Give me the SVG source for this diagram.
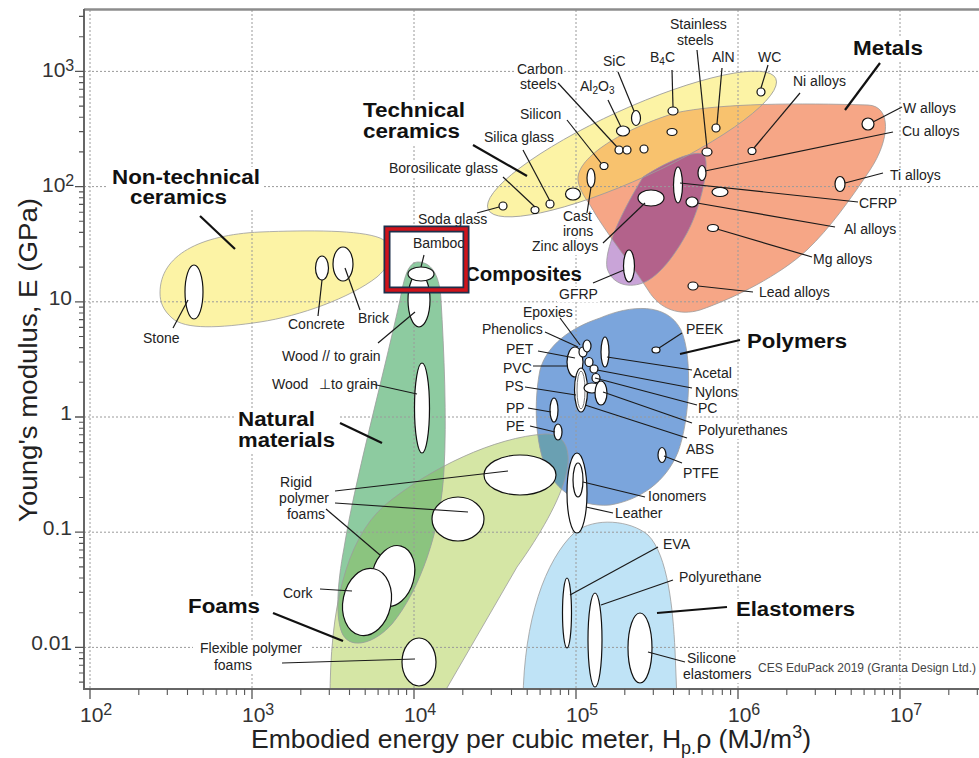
<svg xmlns="http://www.w3.org/2000/svg" width="979" height="758" viewBox="0 0 979 758">
<style>
.env{fill:none;stroke:#9c9c9c;stroke-width:0.8}
.bub{fill:#fff;stroke:#111;stroke-width:1.2}
.ld{stroke:#1a1a1a;stroke-width:1.2;fill:none}
.ldb{stroke:#111;stroke-width:2.2;fill:none}
.lb{font-family:"Liberation Sans",Arial,sans-serif;font-size:14px;fill:#222}
.bl{font-family:"Liberation Sans",Arial,sans-serif;font-size:20px;font-weight:bold;fill:#111}
.grid{stroke:#9a9a9a;stroke-width:1;stroke-dasharray:2 2;fill:none}
.tk{font-family:"Liberation Sans",Arial,sans-serif;font-size:21px;fill:#333}
.bg{fill:#fff}
</style>
<defs>
<clipPath id="cpPlot"><rect x="85" y="10" width="894" height="679"/></clipPath>
<clipPath id="cpFoams"><path d="M 330,700 C 330,610 345,540 385,505 C 430,468 495,437 545,434 C 566,433 572,452 566,475 C 560,500 540,535 517,567 L 440,700 Z"/></clipPath>
<clipPath id="cpTcer"><ellipse cx="632" cy="144" rx="158" ry="35" transform="rotate(-24.5 632 144)"/></clipPath>
<clipPath id="cpMetals"><path d="M 578,180 C 576,160 615,132 675,113 C 720,103 800,103 868,105 C 892,106 890,140 870,170 C 850,200 830,228 807,250 C 780,275 735,298 700,310 C 680,316 660,310 648,290 C 630,262 605,232 590,205 C 583,195 579,188 578,180 Z"/></clipPath>
</defs>
<rect width="979" height="758" fill="#fff"/>

<g id="envelopes" clip-path="url(#cpPlot)">
<path id="foams-env" d="M 330,700 C 330,610 345,540 385,505 C 430,468 495,437 545,434 C 566,433 572,452 566,475 C 560,500 540,535 517,567 L 440,700 Z" fill="#D5E6A5"/>
<path id="natural-env" d="M 418,262 C 433,262 440,278 441,300 C 444,350 447,420 444,470 C 441,530 420,590 392,624 C 375,643 352,650 343,635 C 335,620 337,585 344,548 C 355,480 380,390 400,300 C 404,278 408,262 418,262 Z" fill="#8DCBA0"/>
<path d="M 418,262 C 433,262 440,278 441,300 C 444,350 447,420 444,470 C 441,530 420,590 392,624 C 375,643 352,650 343,635 C 335,620 337,585 344,548 C 355,480 380,390 400,300 C 404,278 408,262 418,262 Z" fill="#8BC47F" clip-path="url(#cpFoams)"/>
<path id="polymers-env" d="M 600,318 C 630,305 667,302 681,330 C 693,356 690,420 678,452 C 666,482 640,500 610,505 C 576,508 551,486 543,460 C 534,430 535,395 540,370 C 547,345 570,328 600,318 Z" fill="#7BA5DC"/>
<path d="M 600,318 C 630,305 667,302 681,330 C 693,356 690,420 678,452 C 666,482 640,500 610,505 C 576,508 551,486 543,460 C 534,430 535,395 540,370 C 547,345 570,328 600,318 Z" fill="#6AA0B2" clip-path="url(#cpFoams)"/>
<path id="elast-env" d="M 523,700 C 524,620 545,560 575,532 C 595,517 630,520 648,535 C 668,555 673,610 675,650 L 677,700 Z" fill="#BFE3F6"/>
<path id="ntcer-env" d="M 160,293 C 160,255 200,235 260,232 C 310,230 360,230 380,238 C 398,246 394,262 377,277 C 350,298 300,316 260,322 C 220,328 185,330 172,318 C 163,310 160,302 160,293 Z" fill="#FCF3A5"/>
<ellipse id="tcer-env" cx="632" cy="144" rx="158" ry="35" transform="rotate(-24.5 632 144)" fill="#FCF3A5"/>
<path id="metals-env" d="M 578,180 C 576,160 615,132 675,113 C 720,103 800,103 868,105 C 892,106 890,140 870,170 C 850,200 830,228 807,250 C 780,275 735,298 700,310 C 680,316 660,310 648,290 C 630,262 605,232 590,205 C 583,195 579,188 578,180 Z" fill="#F6A686"/>
<path d="M 578,180 C 576,160 615,132 675,113 C 720,103 800,103 868,105 C 892,106 890,140 870,170 C 850,200 830,228 807,250 C 780,275 735,298 700,310 C 680,316 660,310 648,290 C 630,262 605,232 590,205 C 583,195 579,188 578,180 Z" fill="#F8C26E" clip-path="url(#cpTcer)"/>
<path id="comp-env" d="M 643,177 C 660,166 690,150 703,154 C 712,160 700,210 687,233 C 675,255 660,275 645,282 C 630,289 612,285 607,268 C 604,250 620,215 643,177 Z" fill="#C9A4D8"/>
<path d="M 643,177 C 660,166 690,150 703,154 C 712,160 700,210 687,233 C 675,255 660,275 645,282 C 630,289 612,285 607,268 C 604,250 620,215 643,177 Z" fill="#B3628B" clip-path="url(#cpMetals)"/>
<g class="env">
<path d="M 330,700 C 330,610 345,540 385,505 C 430,468 495,437 545,434 C 566,433 572,452 566,475 C 560,500 540,535 517,567 L 440,700"/>
<path d="M 418,262 C 433,262 440,278 441,300 C 444,350 447,420 444,470 C 441,530 420,590 392,624 C 375,643 352,650 343,635 C 335,620 337,585 344,548 C 355,480 380,390 400,300 C 404,278 408,262 418,262 Z"/>
<path d="M 600,318 C 630,305 667,302 681,330 C 693,356 690,420 678,452 C 666,482 640,500 610,505 C 576,508 551,486 543,460 C 534,430 535,395 540,370 C 547,345 570,328 600,318 Z"/>
<path d="M 523,700 C 524,620 545,560 575,532 C 595,517 630,520 648,535 C 668,555 673,610 675,650 L 677,700"/>
<path d="M 160,293 C 160,255 200,235 260,232 C 310,230 360,230 380,238 C 398,246 394,262 377,277 C 350,298 300,316 260,322 C 220,328 185,330 172,318 C 163,310 160,302 160,293 Z"/>
<ellipse cx="632" cy="144" rx="158" ry="35" transform="rotate(-24.5 632 144)"/>
<path d="M 578,180 C 576,160 615,132 675,113 C 720,103 800,103 868,105 C 892,106 890,140 870,170 C 850,200 830,228 807,250 C 780,275 735,298 700,310 C 680,316 660,310 648,290 C 630,262 605,232 590,205 C 583,195 579,188 578,180 Z"/>
<path d="M 643,177 C 660,166 690,150 703,154 C 712,160 700,210 687,233 C 675,255 660,275 645,282 C 630,289 612,285 607,268 C 604,250 620,215 643,177 Z"/>
</g>
</g>

<g id="grid" class="grid">
<path d="M84,71.4H979 M84,186.6H979 M84,301.8H979 M84,417H979 M84,532.2H979 M84,647.4H979"/>
<path d="M90,10V689 M252,10V689 M414,10V689 M576,10V689 M738,10V689 M900,10V689"/>
</g>

<g id="axes">
<path d="M84,9.5H979" stroke="#8c8c8c" stroke-width="2.5" fill="none"/>
<path d="M84,9V689H979" stroke="#666" stroke-width="2" fill="none"/>
<path stroke="#555" stroke-width="1.3" fill="none" d="M75,71.4H84 M75,186.6H84 M75,301.8H84 M75,417H84 M75,532.2H84 M75,647.4H84 M90,689V699 M252,689V699 M414,689V699 M576,689V699 M738,689V699 M900,689V699"/>
<path stroke="#555" stroke-width="1.1" fill="none" d="M79,36.7H84 M79,16.4H84 M79,151.9H84 M79,131.6H84 M79,117.2H84 M79,106.1H84 M79,97H84 M79,89.2H84 M79,82.6H84 M79,76.7H84 M79,267.1H84 M79,246.8H84 M79,232.4H84 M79,221.3H84 M79,212.2H84 M79,204.4H84 M79,197.8H84 M79,191.9H84 M79,382.3H84 M79,362H84 M79,347.6H84 M79,336.5H84 M79,327.4H84 M79,319.6H84 M79,313H84 M79,307.1H84 M79,497.5H84 M79,477.2H84 M79,462.8H84 M79,451.7H84 M79,442.6H84 M79,434.8H84 M79,428.2H84 M79,422.3H84 M79,612.7H84 M79,592.4H84 M79,578H84 M79,566.9H84 M79,557.8H84 M79,550H84 M79,543.4H84 M79,537.5H84 M79,682.1H84 M79,673H84 M79,665.2H84 M79,658.6H84 M79,652.7H84
M138.8,689V695 M167.3,689V695 M187.5,689V695 M203.2,689V695 M216.1,689V695 M226.9,689V695 M236.3,689V695 M244.6,689V695
M300.8,689V695 M329.3,689V695 M349.5,689V695 M365.2,689V695 M378.1,689V695 M388.9,689V695 M398.3,689V695 M406.6,689V695
M462.8,689V695 M491.3,689V695 M511.5,689V695 M527.2,689V695 M540.1,689V695 M550.9,689V695 M560.3,689V695 M568.6,689V695
M624.8,689V695 M653.3,689V695 M673.5,689V695 M689.2,689V695 M702.1,689V695 M712.9,689V695 M722.3,689V695 M730.6,689V695
M786.8,689V695 M815.3,689V695 M835.5,689V695 M851.2,689V695 M864.1,689V695 M874.9,689V695 M884.3,689V695 M892.6,689V695
M948.8,689V695 M977.3,689V695"/>
<g class="tk">
<text x="42" y="77">10<tspan dy="-6" font-size="16">3</tspan></text>
<text x="42" y="192">10<tspan dy="-6" font-size="16">2</tspan></text>
<text x="72" y="305" text-anchor="end">10</text>
<text x="72" y="420" text-anchor="end">1</text>
<text x="72" y="535" text-anchor="end">0.1</text>
<text x="72" y="650" text-anchor="end">0.01</text>
<text x="80" y="722">10<tspan dy="-7" font-size="16">2</tspan></text>
<text x="242" y="722">10<tspan dy="-7" font-size="16">3</tspan></text>
<text x="404" y="722">10<tspan dy="-7" font-size="16">4</tspan></text>
<text x="566" y="722">10<tspan dy="-7" font-size="16">5</tspan></text>
<text x="728" y="722">10<tspan dy="-7" font-size="16">6</tspan></text>
<text x="890" y="722">10<tspan dy="-7" font-size="16">7</tspan></text>
</g>
<text transform="translate(37,360) rotate(-90)" text-anchor="middle" font-family="Liberation Sans, Arial, sans-serif" font-size="26" fill="#222" textLength="324" lengthAdjust="spacingAndGlyphs">Young's modulus, E (GPa)</text>
<text x="251" y="748" font-family="Liberation Sans, Arial, sans-serif" font-size="26.5" fill="#222">Embodied energy per cubic meter, H<tspan font-size="18" dy="6">p.</tspan><tspan dy="-6">ρ (MJ/m</tspan><tspan font-size="18" dy="-10">3</tspan><tspan dy="10">)</tspan></text>
</g>

<g id="label-backgrounds" class="bg">
<rect x="108" y="167" width="156" height="42"/>
<rect x="360" y="101" width="108" height="43"/>
<rect x="234" y="409" width="104" height="45"/>
<rect x="185" y="597" width="78" height="20"/>
<rect x="850" y="38" width="76" height="22"/>
<rect x="744" y="331" width="106" height="24"/>
<rect x="733" y="599" width="125" height="23"/>
<rect x="515" y="62" width="49" height="16"/>
<rect x="888" y="169" width="56" height="15"/>
<rect x="857" y="196" width="53" height="15"/>
<rect x="557" y="287" width="42" height="15"/>
<rect x="530" y="239" width="70" height="16"/>
<rect x="561" y="210" width="32" height="28"/>
<rect x="387" y="161" width="113" height="15"/>
<rect x="696" y="424" width="93" height="15"/>
<rect x="677" y="571" width="88" height="15"/>
<rect x="681" y="652" width="73" height="31"/>
<rect x="193" y="640" width="117" height="34"/>
<rect x="756" y="661" width="222" height="14"/>
<rect x="390" y="232" width="73" height="29"/>
</g>

<g id="nodes">
<g id="stone"><ellipse class="bub" cx="194" cy="292" rx="9" ry="27"/><text class="lb" x="143" y="343">Stone</text></g>
<g id="concrete"><ellipse class="bub" cx="322" cy="268" rx="6.5" ry="12"/><text class="lb" x="288" y="329">Concrete</text></g>
<g id="brick"><ellipse class="bub" cx="343" cy="264" rx="10" ry="17"/><text class="lb" x="358" y="323">Brick</text></g>
<g id="non-technical-ceramics"><text class="bl" x="112" y="184" textLength="148" lengthAdjust="spacingAndGlyphs">Non-technical</text><text class="bl" x="130" y="204" textLength="97" lengthAdjust="spacingAndGlyphs">ceramics</text></g>

<g id="technical-ceramics"><text class="bl" x="363" y="117" textLength="102" lengthAdjust="spacingAndGlyphs">Technical</text><text class="bl" x="363" y="138" textLength="97" lengthAdjust="spacingAndGlyphs">ceramics</text></g>
<g id="soda-glass"><ellipse class="bub" cx="503" cy="206" rx="4" ry="4"/><text class="lb" x="418" y="224">Soda glass</text></g>
<g id="borosilicate-glass"><ellipse class="bub" cx="535" cy="210" rx="4" ry="3.5"/><text class="lb" x="389" y="173">Borosilicate glass</text></g>
<g id="silica-glass"><ellipse class="bub" cx="550" cy="204" rx="4" ry="4"/><text class="lb" x="484" y="142">Silica glass</text></g>
<g id="ceramic-a"><ellipse class="bub" cx="573" cy="194" rx="7.5" ry="6"/></g>
<g id="cast-irons"><ellipse class="bub" cx="591" cy="178" rx="4" ry="9.5"/><text class="lb" x="563" y="221">Cast</text><text class="lb" x="563" y="236">irons</text></g>
<g id="silicon"><ellipse class="bub" cx="604" cy="166" rx="4" ry="3.5"/><text class="lb" x="520" y="119">Silicon</text></g>
<g id="carbon-steels"><ellipse class="bub" cx="619" cy="150" rx="4" ry="4"/><ellipse class="bub" cx="627" cy="150" rx="4" ry="4"/><text class="lb" x="517" y="74">Carbon</text><text class="lb" x="520" y="89">steels</text></g>
<g id="al2o3"><ellipse class="bub" cx="623" cy="131" rx="6.5" ry="5"/><text class="lb" x="580" y="91">Al<tspan font-size="10" dy="3">2</tspan><tspan dy="-3">O</tspan><tspan font-size="10" dy="3">3</tspan></text></g>
<g id="sic"><ellipse class="bub" cx="636" cy="118" rx="4.5" ry="7.5"/><text class="lb" x="603" y="66">SiC</text></g>
<g id="ceramic-b"><ellipse class="bub" cx="644" cy="149" rx="4" ry="4"/></g>
<g id="b4c"><ellipse class="bub" cx="673" cy="111" rx="5" ry="4"/><text class="lb" x="650" y="62">B<tspan font-size="10" dy="3">4</tspan><tspan dy="-3">C</tspan></text></g>
<g id="ceramic-c"><ellipse class="bub" cx="672" cy="132" rx="5" ry="3.5"/></g>
<g id="stainless-steels"><ellipse class="bub" cx="707" cy="152" rx="5" ry="4"/><text class="lb" x="670" y="29">Stainless</text><text class="lb" x="677" y="45">steels</text></g>
<g id="aln"><ellipse class="bub" cx="716" cy="128" rx="4" ry="4"/><text class="lb" x="712" y="62">AlN</text></g>
<g id="wc"><ellipse class="bub" cx="761" cy="92" rx="4" ry="4"/><text class="lb" x="758" y="62">WC</text></g>

<g id="metals"><text class="bl" x="853" y="55" textLength="70" lengthAdjust="spacingAndGlyphs">Metals</text></g>
<g id="ni-alloys"><ellipse class="bub" cx="752" cy="151" rx="4" ry="3.5"/><text class="lb" x="793" y="86">Ni alloys</text></g>
<g id="w-alloys"><ellipse class="bub" cx="868" cy="124" rx="6" ry="6"/><text class="lb" x="903" y="113">W alloys</text></g>
<g id="cu-alloys"><ellipse class="bub" cx="702" cy="173" rx="4" ry="7.5"/><text class="lb" x="902" y="136">Cu alloys</text></g>
<g id="ti-alloys"><ellipse class="bub" cx="840" cy="184" rx="5" ry="7.5"/><text class="lb" x="890" y="180">Ti alloys</text></g>
<g id="zinc-alloys"><ellipse class="bub" cx="651" cy="198" rx="13" ry="8"/><text class="lb" x="532" y="251">Zinc alloys</text></g>
<g id="cfrp"><ellipse class="bub" cx="678" cy="185" rx="4.5" ry="18"/><text class="lb" x="859" y="208">CFRP</text></g>
<g id="metal-a"><ellipse class="bub" cx="720" cy="192" rx="8" ry="4.5"/></g>
<g id="al-alloys"><ellipse class="bub" cx="692" cy="202" rx="6" ry="5"/><text class="lb" x="844" y="234">Al alloys</text></g>
<g id="mg-alloys"><ellipse class="bub" cx="713" cy="228" rx="5.5" ry="3.5"/><text class="lb" x="813" y="264">Mg alloys</text></g>
<g id="lead-alloys"><ellipse class="bub" cx="693" cy="286" rx="5" ry="4"/><text class="lb" x="759" y="297">Lead alloys</text></g>
<g id="gfrp"><ellipse class="bub" cx="629" cy="266" rx="5.5" ry="16"/><text class="lb" x="559" y="299">GFRP</text></g>
<g id="composites"><text class="bl" x="465" y="281" textLength="117" lengthAdjust="spacingAndGlyphs">Composites</text></g>

<g id="wood-parallel"><ellipse class="bub" cx="419" cy="300" rx="11" ry="27"/><text class="lb" x="282" y="361">Wood // to grain</text></g>
<g id="bamboo"><ellipse class="bub" cx="421" cy="274" rx="13" ry="7"/><text class="lb" x="413" y="248">Bamboo</text></g>
<g id="wood-perp"><ellipse class="bub" cx="422" cy="408" rx="7.5" ry="45"/><text class="lb" x="272" y="389">Wood</text><text class="lb" x="319" y="389">⊥to grain</text></g>
<g id="natural-materials"><text class="bl" x="238" y="426" textLength="77" lengthAdjust="spacingAndGlyphs">Natural</text><text class="bl" x="238" y="447" textLength="97" lengthAdjust="spacingAndGlyphs">materials</text></g>

<g id="rigid-polymer-foams"><ellipse class="bub" cx="520" cy="475" rx="36" ry="20"/><ellipse class="bub" cx="458" cy="519" rx="26" ry="22"/><ellipse class="bub" cx="393" cy="576" rx="21" ry="31" transform="rotate(15 393 576)"/><text class="lb" x="296" y="487" text-anchor="middle">Rigid</text><text class="lb" x="304" y="503" text-anchor="middle">polymer</text><text class="lb" x="306" y="519" text-anchor="middle">foams</text></g>
<g id="cork"><ellipse class="bub" cx="367" cy="602" rx="24" ry="34" transform="rotate(12 367 602)"/><text class="lb" x="283" y="598">Cork</text></g>
<g id="flexible-polymer-foams"><ellipse class="bub" cx="419" cy="662" rx="17" ry="24"/><text class="lb" x="251" y="653" text-anchor="middle">Flexible polymer</text><text class="lb" x="233" y="670" text-anchor="middle">foams</text></g>
<g id="foams"><text class="bl" x="188" y="613" textLength="72" lengthAdjust="spacingAndGlyphs">Foams</text></g>

<g id="polymers"><text class="bl" x="747" y="348" textLength="100" lengthAdjust="spacingAndGlyphs">Polymers</text></g>
<g id="pet-pvc"><ellipse class="bub" cx="575" cy="362" rx="8" ry="15"/><text class="lb" x="506" y="354">PET</text><text class="lb" x="503" y="373">PVC</text></g>
<g id="phenolics"><ellipse class="bub" cx="583" cy="352" rx="4" ry="5"/><text class="lb" x="482" y="334">Phenolics</text></g>
<g id="epoxies"><ellipse class="bub" cx="587" cy="346" rx="4" ry="6"/><text class="lb" x="523" y="317">Epoxies</text></g>
<g id="acetal"><ellipse class="bub" cx="605" cy="352" rx="4" ry="15"/><text class="lb" x="693" y="378">Acetal</text></g>
<g id="nylons"><ellipse class="bub" cx="589" cy="362" rx="4" ry="4.5"/><text class="lb" x="695" y="397">Nylons</text></g>
<g id="pc"><ellipse class="bub" cx="594" cy="369" rx="4" ry="4"/><ellipse class="bub" cx="596" cy="378" rx="4" ry="4.5"/><text class="lb" x="698" y="413">PC</text></g>
<g id="ps"><ellipse class="bub" cx="581" cy="390" rx="6.5" ry="22"/><ellipse cx="581" cy="390" rx="4" ry="19" fill="none" stroke="#777" stroke-width="1"/><text class="lb" x="505" y="391">PS</text></g>
<g id="abs"><ellipse class="bub" cx="592" cy="388" rx="8" ry="5"/><text class="lb" x="686" y="454">ABS</text></g>
<g id="polyurethanes"><ellipse class="bub" cx="601" cy="393" rx="6" ry="12"/><text class="lb" x="698" y="435">Polyurethanes</text></g>
<g id="pp"><ellipse class="bub" cx="554" cy="410" rx="4" ry="12"/><text class="lb" x="506" y="413">PP</text></g>
<g id="pe"><ellipse class="bub" cx="558" cy="432" rx="4" ry="8"/><text class="lb" x="506" y="431">PE</text></g>
<g id="peek"><ellipse class="bub" cx="656" cy="350" rx="4" ry="3"/><text class="lb" x="686" y="334">PEEK</text></g>
<g id="ptfe"><ellipse class="bub" cx="662" cy="455" rx="4" ry="7.5"/><text class="lb" x="683" y="478">PTFE</text></g>
<g id="leather"><ellipse class="bub" cx="577" cy="493" rx="10" ry="40"/><text class="lb" x="615" y="518">Leather</text></g>
<g id="ionomers"><ellipse class="bub" cx="578" cy="480" rx="5" ry="17"/><text class="lb" x="648" y="501">Ionomers</text></g>

<g id="elastomers"><text class="bl" x="736" y="616" textLength="119" lengthAdjust="spacingAndGlyphs">Elastomers</text></g>
<g id="eva"><ellipse class="bub" cx="567" cy="613" rx="4.5" ry="35"/><text class="lb" x="663" y="549">EVA</text></g>
<g id="polyurethane"><ellipse class="bub" cx="595" cy="640" rx="7" ry="47"/><text class="lb" x="679" y="582">Polyurethane</text></g>
<g id="silicone-elastomers"><ellipse class="bub" cx="640" cy="648" rx="12" ry="35"/><text class="lb" x="687" y="663">Silicone</text><text class="lb" x="683" y="679">elastomers</text></g>

<g id="credit"><text x="758" y="672" font-family="Liberation Sans, Arial, sans-serif" font-size="12" fill="#444" textLength="218" lengthAdjust="spacingAndGlyphs">CES EduPack 2019 (Granta Design Ltd.)</text></g>
</g>

<g id="connectors">
<g class="ldb">
<path d="M200,216L235,249"/>
<path d="M473,145L527,176"/>
<path d="M880,63L845,110"/>
<path d="M340,423L382,443"/>
<path d="M273,613L343,641"/>
<path d="M680,354L740,340"/>
<path d="M657,613L727,607"/>
</g>
<g class="ld">
<path d="M173,328L188,300"/>
<path d="M322,280L318,316"/>
<path d="M345,268L360,310"/>
<path d="M503,177L535,207"/>
<path d="M523,150L550,201"/>
<path d="M477,213L499,207"/>
<path d="M567,120L601,163"/>
<path d="M558,83L617,147"/>
<path d="M608,100L621,127"/>
<path d="M618,72L634,111"/>
<path d="M672,70L673,107"/>
<path d="M697,50L707,148"/>
<path d="M722,68L717,124"/>
<path d="M768,65L761,88"/>
<path d="M800,93L754,148"/>
<path d="M902,107L873,122"/>
<path d="M893,132L705,171"/>
<path d="M883,173L845,183"/>
<path d="M858,202L680,183"/>
<path d="M835,227L697,203"/>
<path d="M812,257L717,229"/>
<path d="M753,292L698,286"/>
<path d="M603,243L645,203"/>
<path d="M587,213L591,187"/>
<path d="M593,283L624,270"/>
<path d="M424,255L421,267"/>
<path d="M378,343L415,312"/>
<path d="M372,384L417,394"/>
<path d="M335,491L508,471"/>
<path d="M335,503L468,512"/>
<path d="M326,509L380,555"/>
<path d="M320,589L352,591"/>
<path d="M282,663L415,659"/>
<path d="M682,333L659,348"/>
<path d="M607,357L692,370"/>
<path d="M597,370L692,388"/>
<path d="M595,378L697,405"/>
<path d="M603,392L692,423"/>
<path d="M585,405L687,438"/>
<path d="M664,456L682,463"/>
<path d="M560,318L580,345"/>
<path d="M545,332L578,347"/>
<path d="M538,351L575,358"/>
<path d="M533,366L567,366"/>
<path d="M525,387L576,395"/>
<path d="M528,408L551,412"/>
<path d="M530,426L555,432"/>
<path d="M583,482L645,497"/>
<path d="M586,507L613,513"/>
<path d="M658,547L570,595"/>
<path d="M673,580L601,605"/>
<path d="M685,662L648,652"/>
</g>
</g>

<g id="highlight-box">
<rect x="387" y="229" width="79" height="61" fill="none" stroke="#1d2f4a" stroke-width="7"/>
<rect x="387" y="229" width="79" height="61" fill="none" stroke="#d0131b" stroke-width="3.5"/>
</g>
</svg>
